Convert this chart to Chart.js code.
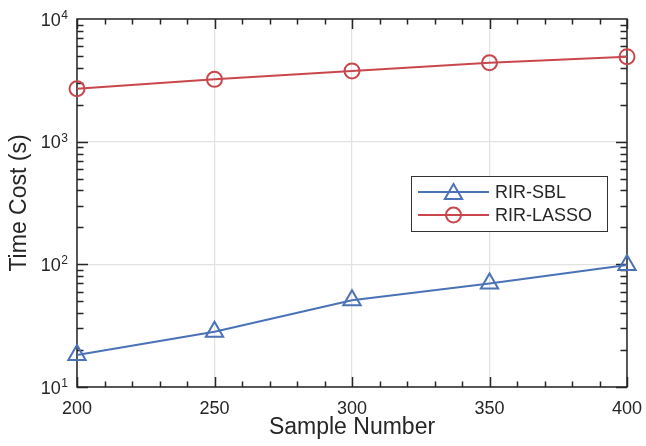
<!DOCTYPE html>
<html>
<head>
<meta charset="utf-8">
<script src="https://cdn.jsdelivr.net/npm/chart.js@4"></script>
<style>
  html, body { margin: 0; padding: 0; background: #fff; }
  canvas { display: block; }
</style>
</head>
<body>
<canvas id="costChart" width="646" height="446"></canvas>
<script>
// Data
const sampleNumbers = [200, 250, 300, 350, 400];
const sblCost = [18.2, 28.2, 51, 69.8, 98.7];
const lassoCost = [2700, 3220, 3770, 4400, 4930];
const xTickValues = [200, 250, 300, 350, 400];
const yDecades = [1, 2, 3, 4];
const seriesLabels = ['RIR-SBL', 'RIR-LASSO'];

const AXIS_COLOR = '#262626';
const GRID_COLOR = '#e2e2e2';
const FONT = "'Liberation Sans', Arial, sans-serif";

function toPoints(values) {
    return sampleNumbers.map((x, i) => ({ x: x, y: values[i] }));
}

function isDecade(v) {
    const e = Math.log10(v);
    return Math.abs(e - Math.round(e)) < 1e-9;
}

// draws a hollow marker like the ones Chart.js uses
function drawMarker(ctx, style, x, y, r, color) {
    ctx.save();
    ctx.strokeStyle = color;
    ctx.lineWidth = 2;
    ctx.beginPath();
    if (style === 'triangle') {
        let a = 0;
        ctx.moveTo(x + Math.sin(a) * r, y - Math.cos(a) * r);
        a += 2 * Math.PI / 3;
        ctx.lineTo(x + Math.sin(a) * r, y - Math.cos(a) * r);
        a += 2 * Math.PI / 3;
        ctx.lineTo(x + Math.sin(a) * r, y - Math.cos(a) * r);
        ctx.closePath();
    } else {
        ctx.arc(x, y, r, 0, Math.PI * 2);
    }
    ctx.stroke();
    ctx.restore();
}

// axes box, inward ticks, tick labels and titles
const framePlugin = {
    id: 'frame',
    beforeDatasetsDraw(chart) {
        const ctx = chart.ctx;
        const area = chart.chartArea;
        const xs = chart.scales.x;
        const ys = chart.scales.y;
        ctx.save();
        ctx.strokeStyle = AXIS_COLOR;
        ctx.lineWidth = 1.5;

        // x ticks, bottom and top
        for (let v = xs.min; v <= xs.max; v += 10) {
            const px = Math.round(xs.getPixelForValue(v)) + 0.5;
            const len = (v % 50 === 0) ? 10 : 5.5;
            ctx.beginPath();
            ctx.moveTo(px, area.bottom);
            ctx.lineTo(px, area.bottom - len);
            ctx.moveTo(px, area.top);
            ctx.lineTo(px, area.top + len);
            ctx.stroke();
        }
        // y ticks, left and right
        for (let d = 1; d < 4; d++) {
            for (let m = 1; m <= 9; m++) {
                const v = m * Math.pow(10, d);
                const py = Math.round(ys.getPixelForValue(v)) + 0.5;
                const len = (m === 1) ? 11 : 6.5;
                ctx.beginPath();
                ctx.moveTo(area.left, py);
                ctx.lineTo(area.left + len, py);
                ctx.moveTo(area.right, py);
                ctx.lineTo(area.right - len, py);
                ctx.stroke();
            }
        }
        ctx.strokeRect(area.left, area.top, area.right - area.left, area.bottom - area.top);

        ctx.fillStyle = AXIS_COLOR;
        // x tick labels
        ctx.font = '18px ' + FONT;
        ctx.textAlign = 'center';
        ctx.textBaseline = 'alphabetic';
        xTickValues.forEach(v => {
            ctx.fillText(String(v), xs.getPixelForValue(v), area.bottom + 27);
        });
        // y tick labels as 10 with a raised exponent
        yDecades.forEach(e => {
            const py = ys.getPixelForValue(Math.pow(10, e));
            const right = area.left - 9;
            ctx.font = '12px ' + FONT;
            const ew = ctx.measureText(String(e)).width;
            ctx.textAlign = 'left';
            ctx.fillText(String(e), right - ew, py);
            ctx.font = '18px ' + FONT;
            ctx.textAlign = 'right';
            ctx.fillText('10', right - ew - 0.5, py + 6.5);
        });

        // axis titles
        ctx.font = '23px ' + FONT;
        ctx.textAlign = 'center';
        ctx.fillText('Sample Number', (area.left + area.right) / 2, area.bottom + 47);
        ctx.save();
        ctx.translate(26, (area.top + area.bottom) / 2);
        ctx.rotate(-Math.PI / 2);
        ctx.fillText('Time Cost (s)', 0, 0);
        ctx.restore();
        ctx.restore();
    },
    afterDraw(chart) {
        // legend box inside the plot
        const ctx = chart.ctx;
        const bx = 411, by = 176, bw = 196, bh = 55;
        ctx.save();
        ctx.fillStyle = '#ffffff';
        ctx.fillRect(bx, by, bw, bh);
        ctx.strokeStyle = '#333333';
        ctx.lineWidth = 1;
        ctx.strokeRect(bx + 0.5, by + 0.5, bw, bh);
        const rows = [192, 215];
        chart.data.datasets.forEach((ds, i) => {
            const y = rows[i];
            ctx.strokeStyle = ds.borderColor;
            ctx.lineWidth = 2;
            ctx.beginPath();
            ctx.moveTo(418, y);
            ctx.lineTo(489, y);
            ctx.stroke();
            drawMarker(ctx, ds.pointStyle, 453.5, ds.pointStyle === 'triangle' ? y + 2 : y, ds.pointRadius, ds.borderColor);
            ctx.fillStyle = AXIS_COLOR;
            ctx.font = '18px ' + FONT;
            ctx.textAlign = 'left';
            ctx.textBaseline = 'middle';
            ctx.fillText(ds.label, 495, y + 1);
        });
        ctx.restore();
    }
};

new Chart(document.getElementById('costChart'), {
    type: 'line',
    data: {
        datasets: [
            {
                label: seriesLabels[0],
                data: toPoints(sblCost),
                borderColor: '#4a72b7',
                backgroundColor: 'rgba(0,0,0,0)',
                borderWidth: 2,
                pointStyle: 'triangle',
                pointRadius: 10,
                pointBorderWidth: 2,
                pointBackgroundColor: 'rgba(0,0,0,0)',
                tension: 0,
                clip: false
            },
            {
                label: seriesLabels[1],
                data: toPoints(lassoCost),
                borderColor: '#c9474c',
                backgroundColor: 'rgba(0,0,0,0)',
                borderWidth: 2,
                pointStyle: 'circle',
                pointRadius: 7.5,
                pointBorderWidth: 2,
                pointBackgroundColor: 'rgba(0,0,0,0)',
                tension: 0,
                clip: false
            }
        ]
    },
    options: {
        responsive: false,
        animation: false,
        devicePixelRatio: 1,
        layout: {
            padding: { left: 77, right: 19, top: 19, bottom: 59 }
        },
        plugins: {
            legend: { display: false },
            tooltip: { enabled: false }
        },
        scales: {
            x: {
                type: 'linear',
                min: 200,
                max: 400,
                ticks: { display: false, stepSize: 50 },
                grid: { color: GRID_COLOR, lineWidth: 1.2, drawTicks: false },
                border: { display: false }
            },
            y: {
                type: 'logarithmic',
                min: 10,
                max: 10000,
                ticks: { display: false },
                grid: {
                    color: (c) => (c.tick && isDecade(c.tick.value)) ? GRID_COLOR : 'rgba(0,0,0,0)',
                    lineWidth: 1.2,
                    drawTicks: false
                },
                border: { display: false }
            }
        }
    },
    plugins: [framePlugin]
});
</script>
</body>
</html>
